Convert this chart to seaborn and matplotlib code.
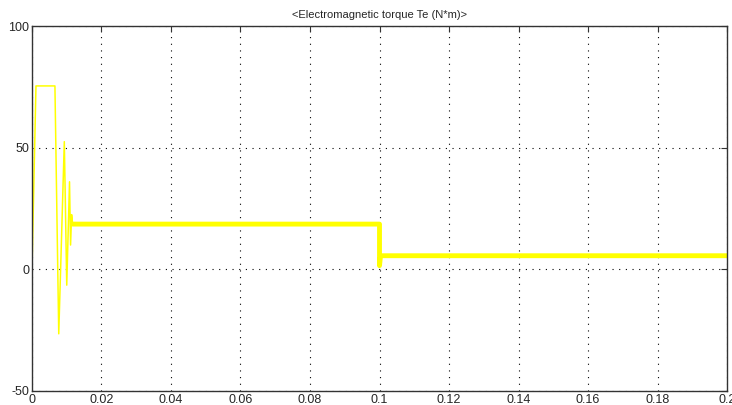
import numpy as np
import pandas as pd
import matplotlib
matplotlib.use("Agg")
import matplotlib.pyplot as plt
import seaborn as sns

# Start-up transient of the torque
t_start = [0.0, 0.00115, 0.0066, 0.0077, 0.0093, 0.0100, 0.0108, 0.0111, 0.0114, 0.0117]
te_start = [0.0, 75.4, 75.4, -26.5, 52.5, -6.5, 36.0, 10.0, 22.5, 18.6]

# Steady part: constant load, then the load step at t = 0.1 s
t_steady = [0.0117, 0.1, 0.1, 0.1003, 0.2]
te_steady = [18.6, 18.6, 1.5, 5.6, 5.6]

x_ticks = [0, 0.02, 0.04, 0.06, 0.08, 0.1, 0.12, 0.14, 0.16, 0.18, 0.2]
x_labels = ["0", "0.02", "0.04", "0.06", "0.08", "0.1", "0.12", "0.14", "0.16", "0.18", "0.2"]
y_ticks = [-50, 0, 50, 100]

sns.set_style("white")
plt.rcParams["font.family"] = ["Liberation Sans", "DejaVu Sans"]
plt.rcParams["axes.unicode_minus"] = False

fig = plt.figure(figsize=(7.32, 4.05), dpi=100)
ax = fig.add_axes([0.0437, 0.0346, 0.9495, 0.901])

df_start = pd.DataFrame({"t": t_start, "te": te_start})
df_steady = pd.DataFrame({"t": t_steady, "te": te_steady})
sns.lineplot(data=df_start, x="t", y="te", ax=ax, color="#ffff00",
             linewidth=1.1, sort=False, estimator=None)
sns.lineplot(data=df_steady, x="t", y="te", ax=ax, color="#ffff00",
             linewidth=3.5, sort=False, estimator=None)
# thin vertical drop at the load step
ax.plot([0.1, 0.1], [18.6, 1.5], color="#ffff00", linewidth=1.1)

ax.set_xlim(0, 0.2)
ax.set_ylim(-50, 100)
ax.set_xticks(x_ticks)
ax.set_xticklabels(x_labels)
ax.set_yticks(y_ticks)
ax.set_xlabel("")
ax.set_ylabel("")
ax.set_title("<Electromagnetic torque Te (N*m)>", fontsize=8, pad=6)

ax.grid(True, color="black", linestyle=(0, (1, 5)), linewidth=0.8)
ax.tick_params(direction="in", top=True, right=True, length=4,
               labelsize=9, color="#333333", pad=2)
for s in ax.spines.values():
    s.set_color("#333333")
    s.set_linewidth(1.0)

fig.savefig("out.png", dpi=100)
